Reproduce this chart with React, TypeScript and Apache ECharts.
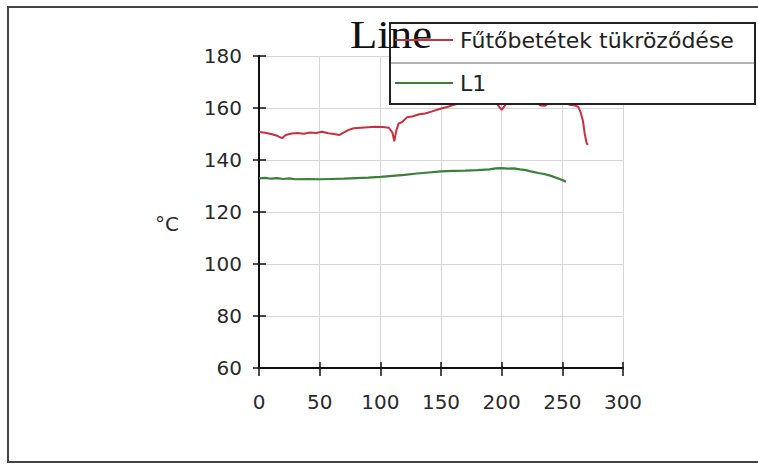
import React, { useEffect, useRef } from "react";
import * as echarts from "echarts";

const seriesNames = ["Fűtőbetétek tükröződése", "L1"];
const xTicks = [0, 50, 100, 150, 200, 250, 300];
const yTicks = [60, 80, 100, 120, 140, 160, 180];

const redX = [0, 5, 10, 15, 19, 22, 27, 32, 37, 42, 47, 52, 57, 62, 66, 70, 74, 78, 84, 90, 96, 102, 107, 110, 111.5, 113, 115, 118, 122, 127, 132, 137, 142, 148, 155, 160, 165, 170, 175, 180, 185, 190, 195, 198, 200, 202, 205, 212, 220, 228, 232, 236, 239, 245, 252, 256, 260, 263, 265, 267, 268.5, 270, 271];
const redY = [150.8, 150.5, 150.0, 149.3, 148.4, 149.6, 150.2, 150.4, 150.1, 150.6, 150.4, 150.9, 150.3, 150.0, 149.6, 150.6, 151.6, 152.2, 152.4, 152.6, 152.8, 152.7, 152.4, 150.5, 147.2, 151.0, 154.0, 154.6, 156.4, 156.8, 157.6, 157.9, 158.6, 159.5, 160.4, 161.1, 161.8, 162.2, 162.5, 162.7, 162.8, 162.8, 162.5, 160.4, 159.3, 160.5, 162.6, 163.0, 163.0, 162.6, 161.0, 160.9, 162.2, 162.8, 162.4, 161.2, 161.0, 160.5, 158.5, 155.0, 150.0, 146.5, 145.8];

const greenX = [0, 5, 10, 15, 20, 25, 30, 40, 50, 60, 70, 80, 90, 100, 110, 120, 130, 140, 150, 160, 170, 180, 190, 195, 200, 205, 210, 215, 220, 225, 230, 235, 240, 245, 250, 253];
const greenY = [132.9, 133.1, 132.8, 133.0, 132.7, 132.9, 132.6, 132.7, 132.6, 132.7, 132.8, 133.0, 133.2, 133.5, 133.9, 134.3, 134.8, 135.2, 135.6, 135.8, 135.9, 136.1, 136.4, 136.8, 136.9, 136.7, 136.8, 136.4, 136.1, 135.5, 135.0, 134.6, 134.0, 133.2, 132.3, 131.6];

const RED = "#c9303f";
const GREEN = "#3a7f3a";

export default function App() {
  const ref = useRef<HTMLDivElement>(null);
  useEffect(() => {
    if (!ref.current) return;
    const chart = echarts.init(ref.current, null, { renderer: "svg" });
    const redData = redX.map((x, i) => [x, redY[i]]);
    const greenData = greenX.map((x, i) => [x, greenY[i]]);
    const labelFont = { fontFamily: "DejaVu Sans", fontSize: 20, color: "#2a2a2a" };
    const xBase = {
      type: "value",
      min: xTicks[0],
      max: xTicks[xTicks.length - 1],
      interval: 50,
    };
    const yBase = {
      type: "value",
      min: yTicks[0],
      max: yTicks[yTicks.length - 1],
      interval: 20,
    };
    chart.setOption({
      animation: false,
      backgroundColor: "#ffffff",
      grid: { left: 259, right: 135, top: 56, bottom: 98, containLabel: false },
      legend: {
        show: true,
        orient: "vertical",
        left: 395,
        top: 28,
        padding: 0,
        itemWidth: 58,
        itemHeight: 2,
        itemGap: 19,
        z: 7,
        icon: "rect",
        data: seriesNames,
        textStyle: { fontFamily: "DejaVu Sans", fontSize: 22, color: "#222", lineHeight: 24, padding: [0, 0, 0, 2] },
      },
      xAxis: [
        {
          ...xBase,
          position: "bottom",
          axisLine: { show: true, lineStyle: { color: "#111", width: 2 } },
          axisTick: { show: true, inside: false, length: 8, lineStyle: { color: "#111", width: 1.5 } },
          axisLabel: { ...labelFont, margin: 24 },
          splitLine: { show: true, lineStyle: { color: "#d6d6d6", width: 1 } },
        },
        {
          ...xBase,
          position: "bottom",
          axisLine: { show: false },
          axisTick: { show: true, inside: true, length: 6, lineStyle: { color: "#111", width: 1.5 } },
          axisLabel: { show: false },
          splitLine: { show: false },
        },
      ],
      yAxis: [
        {
          ...yBase,
          position: "left",
          axisLine: { show: true, lineStyle: { color: "#111", width: 2 } },
          axisTick: { show: true, inside: false, length: 6, lineStyle: { color: "#111", width: 1.5 } },
          axisLabel: { ...labelFont, margin: 17 },
          splitLine: { show: true, lineStyle: { color: "#d6d6d6", width: 1 } },
        },
        {
          ...yBase,
          position: "left",
          offset: 0,
          axisLine: { show: false },
          axisTick: { show: true, inside: true, length: 7, lineStyle: { color: "#111", width: 1.5 } },
          axisLabel: { show: false },
          splitLine: { show: false },
        },
      ],
      series: [
        {
          name: seriesNames[0],
          type: "line",
          data: redData,
          symbol: "none",
          showSymbol: false,
          z: 2,
          lineStyle: { color: RED, width: 2 },
          itemStyle: { color: RED },
        },
        {
          name: seriesNames[1],
          type: "line",
          data: greenData,
          symbol: "none",
          showSymbol: false,
          z: 2,
          lineStyle: { color: GREEN, width: 2.2 },
          itemStyle: { color: GREEN },
        },
      ],
      graphic: {
        elements: [
          {
            type: "rect",
            z: 0,
            silent: true,
            shape: { x: 8, y: 7, width: 760, height: 455 },
            style: { fill: "none", stroke: "#444", lineWidth: 2 },
          },
          {
            type: "rect",
            z: 4,
            silent: true,
            shape: { x: 390, y: 23, width: 365, height: 81 },
            style: { fill: "#ffffff", stroke: "#222", lineWidth: 2 },
          },
          {
            type: "line",
            z: 5,
            silent: true,
            shape: { x1: 391, y1: 63, x2: 754, y2: 63 },
            style: { stroke: "#9a9a9a", lineWidth: 1.5 },
          },
          {
            type: "text",
            z: 6,
            x: 350,
            y: 34,
            scaleX: 1.12,
            style: {
              text: "Line",
              x: 0,
              y: 0,
              font: "40px 'Liberation Serif', serif",
              fill: "#111",
              align: "left",
              verticalAlign: "middle",
            },
          },
          {
            type: "text",
            z: 5,
            x: 155,
            y: 224,
            style: {
              text: "°C",
              x: 0,
              y: 0,
              font: "20px 'DejaVu Sans', sans-serif",
              fill: "#2a2a2a",
              align: "left",
              verticalAlign: "middle",
            },
          },
        ],
      },
    });
    return () => chart.dispose();
  }, []);
  return (
    <div
      ref={ref}
      style={{ position: "fixed", left: 0, top: 0, width: 758, height: 466 }}
    />
  );
}
